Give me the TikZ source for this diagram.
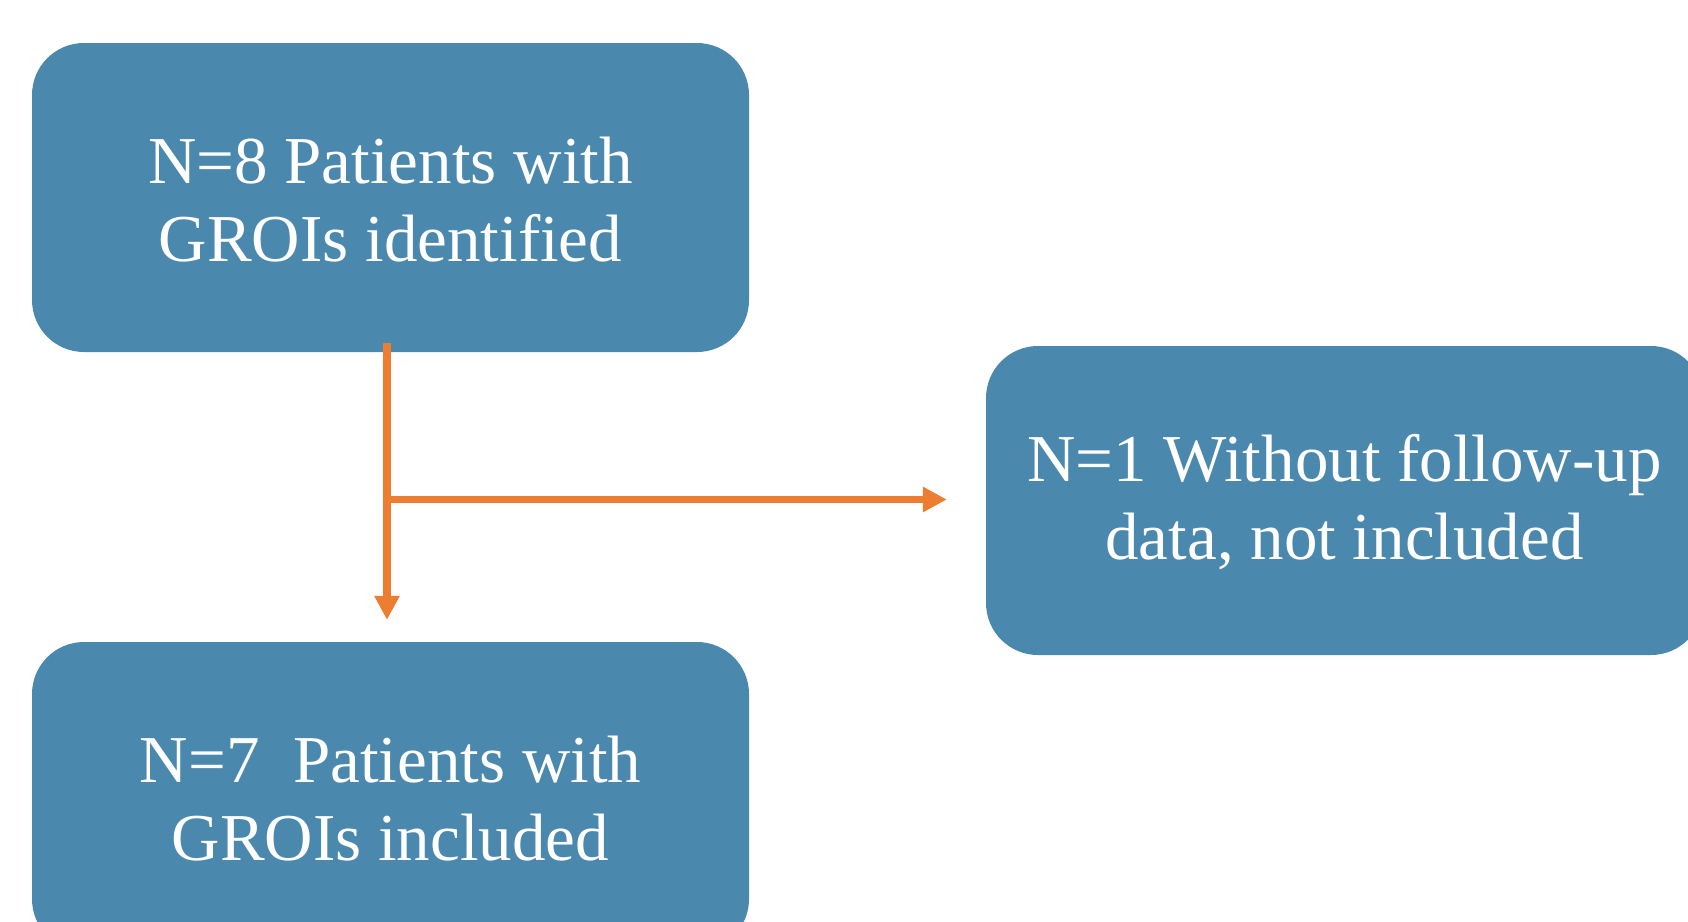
\documentclass[tikz,border=0pt]{standalone}
\usepackage{fontspec}
\setmainfont{Liberation Serif}
\usetikzlibrary{arrows.meta}
\definecolor{boxblue}{HTML}{4A88AE}
\definecolor{arrorange}{HTML}{ED7D31}
\newcommand{\lowerstrut}{\rule{0pt}{51pt}}
\begin{document}
\begin{tikzpicture}[x=1pt,y=-1pt,
  box/.style={rectangle, rounded corners=52pt, fill=boxblue, draw=none,
    minimum width=717pt, minimum height=309pt, inner sep=0pt,
    text=white, align=center, font=\fontsize{67}{78}\selectfont},
  conn/.style={draw=arrorange, line width=7.5pt,
    -{Triangle[width=24pt,length=24pt]}}]
\useasboundingbox (0,0) rectangle (1688,921);
\node[box] (top) at (390.5,197.5) {\lowerstrut N=8 Patients with\\GROIs identified};
\node[box] (bot) at (390.5,796.5) {\lowerstrut N=7\ \ Patients with\\GROIs included};
\node[box] (right) at (1344.5,500.5) {\lowerstrut N=1 Without follow-up\\data, not included};
\coordinate (s) at ([xshift=-3.5pt,yshift=9pt]top.south);
\coordinate (v) at ([xshift=-3.5pt,yshift=22pt]bot.north);
\coordinate (h) at ([xshift=-39pt,yshift=1pt]right.west);
\draw[conn] (s) -- (v);
\draw[conn] (s |- h) -- (h);
\end{tikzpicture}
\end{document}
